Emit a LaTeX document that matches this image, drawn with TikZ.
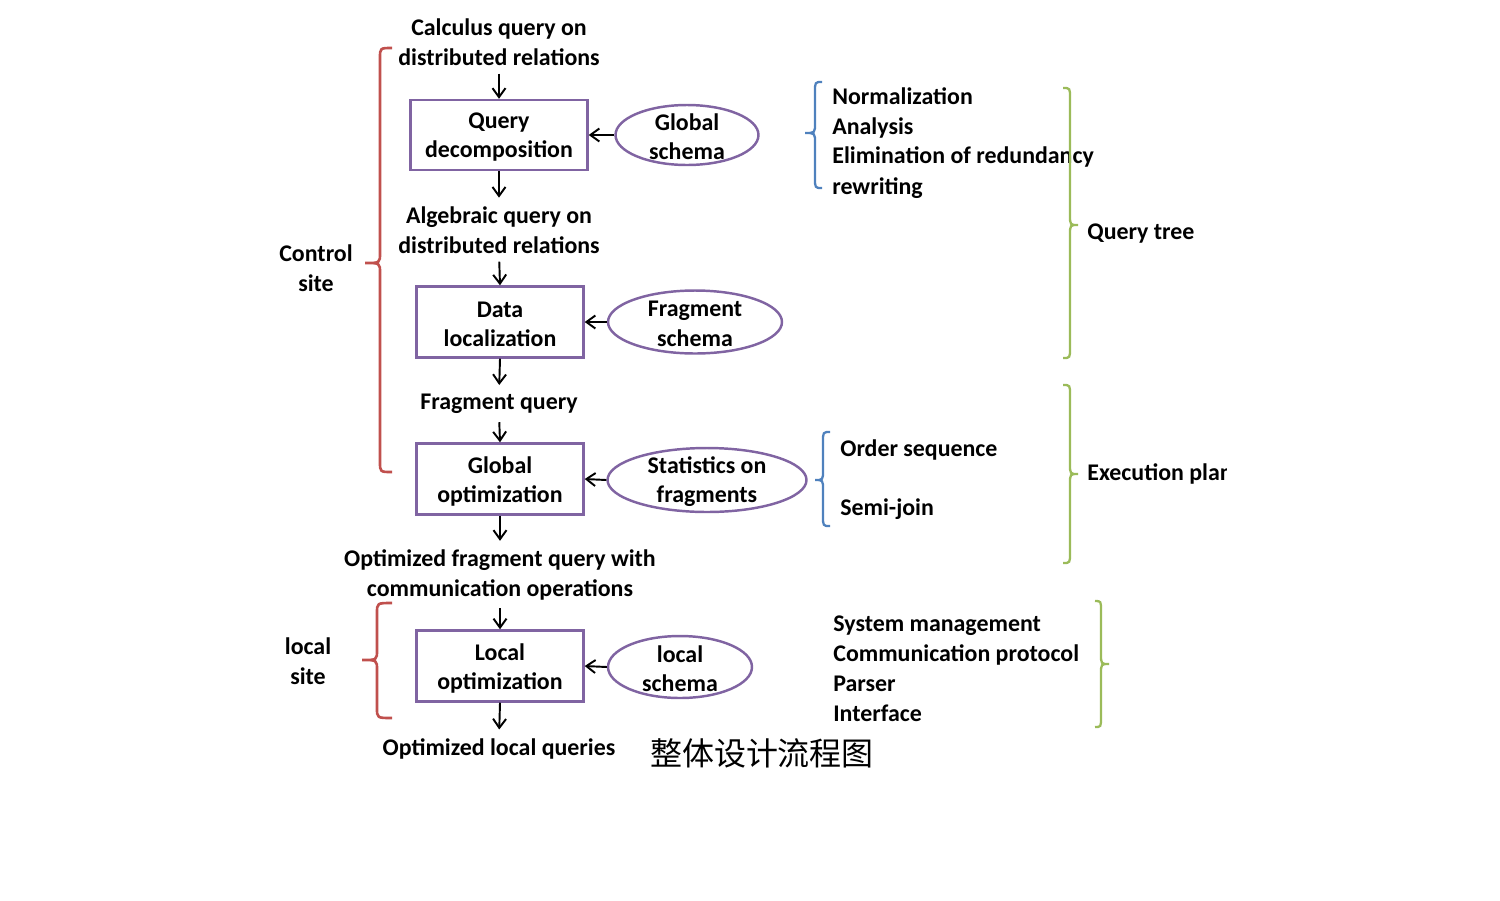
\documentclass[tikz,border=0pt]{standalone}
\usepackage{fontspec}
\setmainfont{Carlito}
\newfontfamily\cjkfont{Noto Sans CJK SC}
\usetikzlibrary{arrows.meta,shapes.geometric}
\definecolor{bred}{HTML}{C0504D}
\definecolor{bblue}{HTML}{4F81BD}
\definecolor{bgreen}{HTML}{9BBB59}
\definecolor{bpurple}{HTML}{8064A2}
% #1 style, #2 tip x, #3 spine x, #4 point x, #5 top y, #6 mid y, #7 bottom y
\newcommand{\mybrace}[7]{%
  \draw[#1] (#2,#5) .. controls (#3,#5) .. (#3,{#5+10})
    -- (#3,{#6-10}) .. controls (#3,#6) .. (#4,#6)
    .. controls (#3,#6) .. (#3,{#6+10})
    -- (#3,{#7-10}) .. controls (#3,#7) .. (#2,#7);}
\begin{document}
\begin{tikzpicture}[x=0.02cm,y=-0.02cm,
  every node/.style={font=\fontsize{13.6}{16.7}\selectfont\bfseries, inner sep=0pt},
  txt/.style={align=center, yshift=-1.2pt},
  lst/.style={anchor=west, text height=10.7pt, text depth=2pt},
  procbox/.style={draw=bpurple, line width=1.4pt, minimum width=33.4mm, minimum height=14.2mm},
  inbox/.style={align=center, yshift=-1.3pt},
  store/.style={ellipse, draw=bpurple, line width=1.4pt},
  inell/.style={align=center, yshift=-1pt},
  arr/.style={-{Straight Barb[length=1.8mm,width=2.6mm,line width=1.1pt]}, line width=1.1pt},
  down1/.style={arr, shorten <=1.6mm},
  down2/.style={arr, shorten >=1.8mm},
  redb/.style={draw=bred, line width=1.5pt},
  blueb/.style={draw=bblue, line width=1.3pt},
  greenb/.style={draw=bgreen, line width=1.3pt}]
\useasboundingbox (0,0) rectangle (1500,900);

% main chain
\node[txt] (t1) at (499,40) {Calculus query on\\distributed relations};
\node[procbox, minimum width=35.4mm, minimum height=14mm, label={[inbox]center:Query\\decomposition}] (b1) at (499,135) {};
\node[store, minimum width=28.6mm, minimum height=12mm, label={[inell]center:Global\\schema}] (e1) at (687,135) {};
\node[txt] (t2) at (499,228) {Algebraic query on\\distributed relations};
\node[procbox, label={[inbox]center:Data\\localization}] (b2) at (500,322) {};
\node[store, minimum width=34.8mm, minimum height=12.6mm, label={[inell]center:Fragment\\schema}] (e2) at (695,322) {};
\node[txt] (t3) at (499,402) {Fragment query};
\node[procbox, label={[inbox]center:Global\\optimization}] (b3) at (500,479) {};
\node[store, minimum width=39.8mm, minimum height=12.8mm, label={[inell]center:Statistics on\\fragments}] (e3) at (707,480) {};
\node[txt] (t4) at (500,573) {Optimized fragment query with\\communication operations};
\node[procbox, label={[inbox]center:Local\\optimization}] (b4) at (500,666) {};
\node[store, minimum width=28.8mm, minimum height=12.4mm, label={[inell]center:local\\schema}] (e4) at (680,667) {};
\node[txt] (t5) at (499,747) {Optimized local queries};
\node[font=\cjkfont\fontsize{18.2}{22}\selectfont] (cn) at (762,753) {整体设计流程图};

\draw[down1] (t1.south) -- (b1.north);
\draw[down2] (b1.south) -- (t2.north);
\draw[down1] (t2.south) -- (b2.north);
\draw[down2] (b2.south) -- (t3.north);
\draw[down1] (t3.south) -- (b3.north);
\draw[down2] (b3.south) -- (t4.north);
\draw[down1] (t4.south) -- (b4.north);
\draw[down2] (b4.south) -- (t5.north);
\draw[arr] (e1.west) -- (b1.east);
\draw[arr] (e2.west) -- (b2.east);
\draw[arr] (e3.west) -- (b3.east);
\draw[arr] (e4.west) -- (b4.east);

% left side
\mybrace{redb}{392}{380}{365}{48}{263}{472}
\node[txt] (cs) at (316,266) {Control\\site};
\mybrace{redb}{392}{377}{362}{603}{660}{718}
\node[txt] (ls) at (308,659) {local\\site};

% query decomposition details
\mybrace{blueb}{822}{815}{805}{82}{133}{188}
\node[lst] (n1) at (832,97) {Normalization};
\node[lst] (n2) at (832,127) {Analysis};
\node[lst] (n3) at (832,156) {Elimination of redundancy};
\node[lst] (n4) at (832,187) {rewriting};

% optimization details
\mybrace{blueb}{830}{823}{815}{432}{480}{526}
\node[lst] (o1) at (840,449) {Order sequence};
\node[lst] (o2) at (840,508) {Semi-join};

% local details
\node[lst] (s1) at (833,624) {System management};
\node[lst] (s2) at (833,654) {Communication protocol};
\node[lst] (s3) at (833,684) {Parser};
\node[lst] (s4) at (833,714) {Interface};

% right braces
\mybrace{greenb}{1063}{1070}{1078}{88}{225}{358}
\node[lst] (qt) at (1087,232) {Query tree};
\mybrace{greenb}{1063}{1070}{1078}{385}{474}{563}
\begin{scope}
\clip (1080,440) rectangle (1226,510);
\node[lst] (ep) at (1087,473) {Execution plan};
\end{scope}
\mybrace{greenb}{1095}{1101}{1109}{601}{664}{727}
\end{tikzpicture}
\end{document}
